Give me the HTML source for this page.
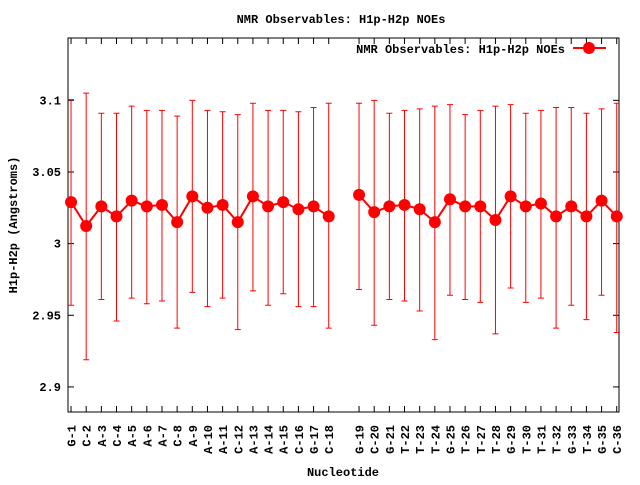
<!DOCTYPE html>
<html><head><meta charset="utf-8"><style>
body{margin:0;background:#fff;}
svg text{font-family:"Liberation Mono","DejaVu Sans Mono",monospace;font-weight:bold;font-size:12px;fill:#000;}
</style></head><body>
<svg id="chart" width="640" height="480" xmlns="http://www.w3.org/2000/svg">
<rect width="640" height="480" fill="#fff"/>
<text x="341" y="23" text-anchor="middle">NMR Observables: H1p-H2p NOEs</text>
<text transform="translate(17,225) rotate(-90)" text-anchor="middle">H1p-H2p (Angstroms)</text>
<text x="343" y="476" text-anchor="middle">Nucleotide</text>
<g id="axes"></g>
<g id="marks"></g>
<g>
<text x="565" y="53" text-anchor="end">NMR Observables: H1p-H2p NOEs</text>
<line x1="573" y1="48" x2="606" y2="48" stroke="#f00" stroke-width="2"/>
<circle cx="589" cy="48" r="6" fill="#f00"/>
</g>
</svg>
<script>
const categories=["G-1","C-2","A-3","C-4","A-5","A-6","A-7","C-8","A-9","A-10","A-11","C-12","A-13","A-14","A-15","C-16","G-17","C-18","G-19","C-20","G-21","T-22","T-23","T-24","G-25","T-26","T-27","T-28","G-29","T-30","T-31","T-32","G-33","T-34","G-35","C-36"];
const values=[3.029,3.0123,3.026,3.019,3.030,3.026,3.027,3.015,3.033,3.025,3.027,3.015,3.033,3.026,3.029,3.024,3.026,3.019,3.034,3.022,3.026,3.027,3.024,3.015,3.031,3.026,3.026,3.0165,3.033,3.026,3.028,3.019,3.026,3.019,3.030,3.019];
const upper=[3.1005,3.105,3.091,3.091,3.096,3.093,3.093,3.089,3.100,3.093,3.092,3.090,3.098,3.093,3.093,3.092,3.095,3.098,3.098,3.100,3.091,3.093,3.094,3.096,3.097,3.090,3.093,3.096,3.097,3.091,3.093,3.095,3.095,3.091,3.094,3.098];
const lower=[2.957,2.919,2.961,2.946,2.962,2.958,2.960,2.941,2.966,2.956,2.962,2.940,2.967,2.957,2.965,2.956,2.956,2.941,2.968,2.943,2.961,2.960,2.953,2.933,2.964,2.961,2.959,2.937,2.969,2.959,2.962,2.941,2.957,2.947,2.964,2.938];
const yTicks=[2.9,2.95,3,3.05,3.1];
const yTickLabels=["2.9","2.95","3","3.05","3.1"];

const NS="http://www.w3.org/2000/svg";
const L=68,R=619,T=38,B=412;
const xMin=-0.2,xMax=36.15,yMin=2.8825,yMax=3.1435;
function idx(i){return i<18?i:i+1;}
function xs(i){return L+(idx(i)-xMin)/(xMax-xMin)*(R-L);}
function ys(v){return B-(v-yMin)/(yMax-yMin)*(B-T);}
function mk(tag,attrs,parent){const e=document.createElementNS(NS,tag);for(const k in attrs)e.setAttribute(k,attrs[k]);parent.appendChild(e);return e;}
const axes=document.getElementById('axes');
const marks=document.getElementById('marks');
const frame=mk('rect',{x:L,y:T,width:R-L,height:B-T,fill:'none',stroke:'#000','stroke-width':1},axes);


yTicks.forEach((v,k)=>{
  const y=ys(v);
  const t1=mk('line',{x1:L,y1:y,x2:L+6,y2:y,stroke:'#000'},axes);
  
  
  const t2=mk('line',{x1:R-6,y1:y,x2:R,y2:y,stroke:'#000'},axes);
  
  
  const tx=mk('text',{x:61,y:y+4,'text-anchor':'end'},axes);
  tx.textContent=yTickLabels[k];
  
  
});
categories.forEach((c,i)=>{
  const x=xs(i);
  const t1=mk('line',{x1:x,y1:B,x2:x,y2:B-6,stroke:'#000'},axes);
  
  
  const t2=mk('line',{x1:x,y1:T,x2:x,y2:T+6,stroke:'#000'},axes);
  
  
  const tx=mk('text',{transform:`translate(${x+4.5},${B+13}) rotate(-90)`,'text-anchor':'end'},axes);
  tx.textContent=c;
  
  
});
categories.forEach((c,i)=>{
  const x=xs(i);
  const eb=mk('path',{d:`M${x},${ys(upper[i])}V${ys(lower[i])}M${x-3},${ys(upper[i])}H${x+3}M${x-3},${ys(lower[i])}H${x+3}`,stroke:'#f00','stroke-width':1,fill:'none'},marks);
  
  
});
function seg(a,b){let d='';for(let i=a;i<=b;i++)d+=(i===a?'M':'L')+xs(i)+','+ys(values[i]);return d;}
const ln=mk('path',{d:seg(0,17)+seg(18,35),stroke:'#f00','stroke-width':2,fill:'none'},marks);


categories.forEach((c,i)=>{
  const p=mk('circle',{cx:xs(i),cy:ys(values[i]),r:6,fill:'#f00'},marks);
  
  
});
</script>
</body></html>
